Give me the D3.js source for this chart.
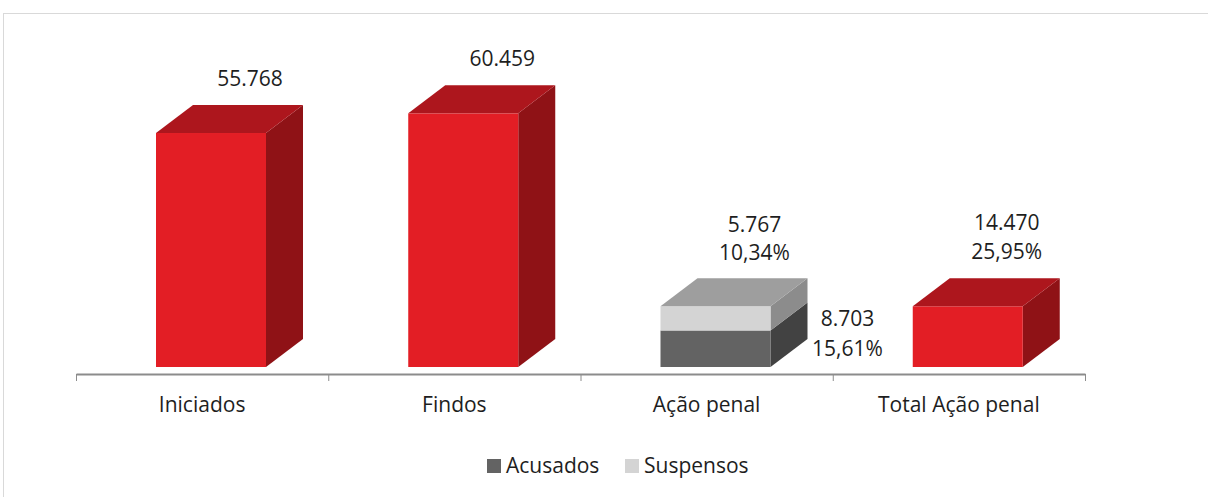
<!DOCTYPE html>
<html>
<head>
<meta charset="utf-8">
<script src="https://cdn.jsdelivr.net/npm/d3@7"></script>
<style>
  html, body { margin: 0; padding: 0; background: #fff; }
  svg { display: block; font-family: 'Open Sans', sans-serif; }
</style>
</head>
<body>
<svg id="chart" width="1208" height="497"></svg>
<script>
const categories = ['Iniciados', 'Findos', 'Ação penal', 'Total Ação penal'];
const redValues = [55768, 60459, 0, 14470];
const acusadosValues = [0, 0, 8703, 0];
const suspensosValues = [0, 0, 5767, 0];
const showPercent = [false, false, true, true];
const legendItems = ['Acusados', 'Suspensos'];

const colors = {
  red: { front: '#e31e25', top: '#ad161d', side: '#8f1216' },
  acusados: { front: '#636363', side: '#424242' },
  suspensos: { front: '#d4d4d4', top: '#9e9e9e', side: '#8c8c8c' },
};

const locale = d3.formatLocale({ decimal: ',', thousands: '.', grouping: [3], currency: ['', ''] });
const fmtNum = locale.format(',d');
const fmtPct = locale.format('.2%');
const baseValue = redValues[0];

const svg = d3.select('#chart');
const depth = { dx: 37, dy: 28 };
const barOffset = 80;
const barWidth = 110;

const x = d3.scaleBand()
  .domain(categories)
  .range([76, 1085])
  .padding(0);

const y = d3.scaleLinear()
  .domain([0, 70000])
  .range([367, 73.3]);

// chart frame
svg.append('rect')
  .attr('x', 3.5)
  .attr('y', 13.5)
  .attr('width', 1220)
  .attr('height', 500)
  .attr('fill', 'none')
  .attr('stroke', '#d9d9d9');

function drawBlock(g, { x0, yTop, yBottom, color, withTop }) {
  const x1 = x0 + barWidth;
  const { dx, dy } = depth;
  g.append('polygon')
    .attr('points', [[x1, yBottom], [x1 + dx, yBottom - dy], [x1 + dx, yTop - dy], [x1, yTop]].join(' '))
    .attr('fill', color.side);
  g.append('rect')
    .attr('x', x0)
    .attr('y', yTop)
    .attr('width', barWidth)
    .attr('height', yBottom - yTop)
    .attr('fill', color.front);
  if (withTop) {
    g.append('polygon')
      .attr('points', [[x0, yTop], [x0 + dx, yTop - dy], [x1 + dx, yTop - dy], [x1, yTop]].join(' '))
      .attr('fill', color.top);
  }
}

function drawLabel(lines, cx, lastBaseline, lineGap) {
  lines.forEach((t, i) => {
    svg.append('text')
      .attr('x', cx)
      .attr('y', lastBaseline - (lines.length - 1 - i) * lineGap)
      .attr('text-anchor', 'middle')
      .attr('font-size', 21)
      .attr('fill', '#1e1e1e')
      .text(t);
  });
}

const bars = svg.append('g').attr('class', 'bars');

categories.forEach((cat, i) => {
  const x0 = x(cat) + barOffset;
  const backCenter = x0 + depth.dx + barWidth / 2 + 2;
  if (redValues[i] > 0) {
    const yTop = y(redValues[i]);
    drawBlock(bars, { x0, yTop, yBottom: y(0), color: colors.red, withTop: true });
    const lines = [fmtNum(redValues[i])];
    if (showPercent[i]) lines.push(fmtPct(redValues[i] / baseValue));
    drawLabel(lines, backCenter, yTop - depth.dy - 19, 29);
  }
  if (acusadosValues[i] > 0) {
    const yA = y(acusadosValues[i]);
    const yS = y(acusadosValues[i] + suspensosValues[i]);
    drawBlock(bars, { x0, yTop: yA, yBottom: y(0), color: colors.acusados, withTop: false });
    drawBlock(bars, { x0, yTop: yS, yBottom: yA, color: colors.suspensos, withTop: true });

    const sLines = [fmtNum(suspensosValues[i])];
    if (showPercent[i]) sLines.push(fmtPct(suspensosValues[i] / baseValue));
    drawLabel(sLines, backCenter, yS - depth.dy - 18, 28);

    const aLines = [fmtNum(acusadosValues[i])];
    if (showPercent[i]) aLines.push(fmtPct(acusadosValues[i] / baseValue));
    const mid = (yA + y(0)) / 2;
    drawLabel(aLines, x0 + barWidth + 77, mid + 7, 30);
  }
});

// category axis with ticks between categories
const edges = d3.scaleLinear()
  .domain([0, categories.length])
  .range(x.range());

const axis = svg.append('g')
  .attr('transform', 'translate(0,374)')
  .call(d3.axisBottom(edges)
    .tickValues(d3.range(categories.length + 1))
    .tickSize(7)
    .tickSizeOuter(0)
    .tickFormat(''));
axis.select('.domain').attr('stroke', '#8c8c8c').attr('stroke-width', 2);
axis.selectAll('.tick line').attr('stroke', '#8c8c8c').attr('stroke-width', 1);

svg.append('g')
  .selectAll('text')
  .data(categories)
  .join('text')
  .attr('x', (d) => x(d) + x.bandwidth() / 2)
  .attr('y', 412)
  .attr('text-anchor', 'middle')
  .attr('font-size', 21)
  .attr('fill', '#1e1e1e')
  .text((d) => d);

// legend
const legendX = [487, 625];
const legendColors = [colors.acusados.front, colors.suspensos.front];
const legend = svg.append('g').attr('class', 'legend');
legendItems.forEach((name, i) => {
  legend.append('rect')
    .attr('x', legendX[i])
    .attr('y', 459)
    .attr('width', 14)
    .attr('height', 14)
    .attr('fill', legendColors[i]);
  legend.append('text')
    .attr('x', legendX[i] + 19)
    .attr('y', 473)
    .attr('font-size', 21)
    .attr('fill', '#1e1e1e')
    .text(name);
});
</script>
</body>
</html>
